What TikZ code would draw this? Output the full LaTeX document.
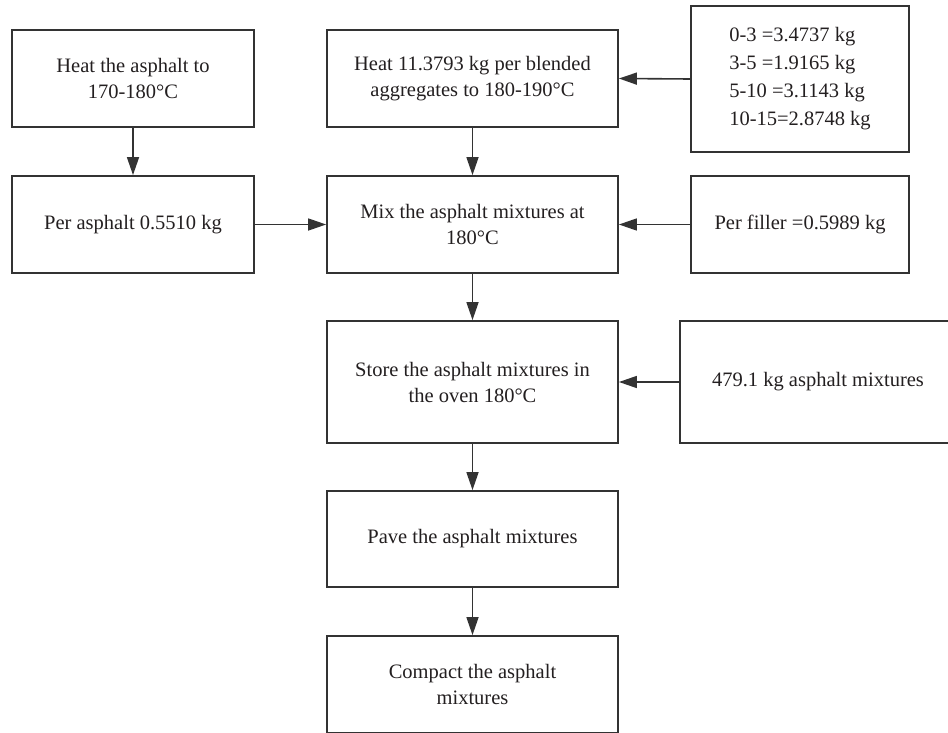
\documentclass[tikz,border=0pt]{standalone}
\usepackage{fontspec}
\setmainfont{Liberation Serif}
\usetikzlibrary{arrows.meta}
\definecolor{linec}{HTML}{333333}
\definecolor{textc}{HTML}{231F20}
\begin{document}
\begin{tikzpicture}[x=1pt,y=-1pt,
  box/.style={draw=linec, line width=1.8pt, rectangle, inner sep=0pt,
    text=textc, align=center, font=\fontsize{20.5}{26}\selectfont},
  arr/.style={draw=linec, line width=1.6pt, -{Triangle[length=18pt,width=12pt]}}]
\useasboundingbox (0,0) rectangle (948,733);
\node[box, minimum width=242pt, minimum height=97pt] (b1) at (133,78.5) {Heat the asphalt to\\170-180\textdegree C};
\node[box, minimum width=291pt, minimum height=97pt] (b2) at (472.5,78.5) {Heat 11.3793 kg per blended\\aggregates to 180-190\textdegree C};
\node[box, minimum width=218pt, minimum height=146pt, align=left, font=\fontsize{20.5}{28}\selectfont] (b3) at (800,79) {0-3 =3.4737 kg\\3-5 =1.9165 kg\\5-10 =3.1143 kg\\10-15=2.8748 kg};
\node[box, minimum width=242pt, minimum height=97pt] (b4) at (133,224.5) {Per asphalt 0.5510 kg};
\node[box, minimum width=291pt, minimum height=97pt] (b5) at (472.5,224.5) {Mix the asphalt mixtures at\\180\textdegree C};
\node[box, minimum width=218pt, minimum height=97pt] (b6) at (800,224.5) {Per filler =0.5989 kg};
\node[box, minimum width=291pt, minimum height=122pt] (b7) at (472.5,382) {Store the asphalt mixtures in\\the oven 180\textdegree C};
\node[box, minimum width=276pt, minimum height=122pt] (b8) at (818,382) {479.1 kg asphalt mixtures};
\node[box, minimum width=291pt, minimum height=96pt] (b9) at (472.5,539) {Pave the asphalt mixtures};
\node[box, minimum width=291pt, minimum height=97pt] (b10) at (472.5,684.5) {Compact the asphalt\\mixtures};
\draw[arr] (b1.south) -- (b4.north);
\draw[arr] (b3.west) -- (b2.east);
\draw[arr] (b2.south) -- (b5.north);
\draw[arr] (b4.east) -- (b5.west);
\draw[arr] (b6.west) -- (b5.east);
\draw[arr] (b5.south) -- (b7.north);
\draw[arr] (b8.west) -- (b7.east);
\draw[arr] (b7.south) -- (b9.north);
\draw[arr] (b9.south) -- (b10.north);
\end{tikzpicture}
\end{document}
